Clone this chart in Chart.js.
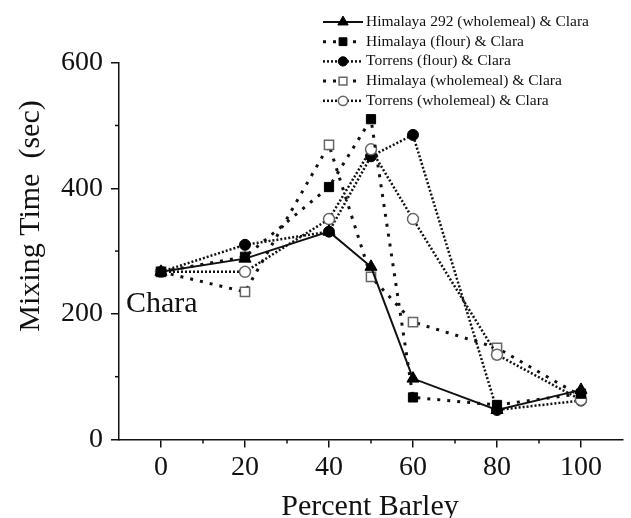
<!DOCTYPE html>
<html>
<head>
<meta charset="utf-8">
<script src="https://cdn.jsdelivr.net/npm/chart.js@4.4.1/dist/chart.umd.min.js"></script>
<style>
html, body { margin: 0; padding: 0; background: #fff; }
#wrap { width: 631px; height: 518px; position: relative; }
</style>
</head>
<body>
<div id="wrap"><canvas id="chart"></canvas></div>
<script>
const percentBarley = [0, 20, 40, 50, 60, 80, 100];
const himalaya292Wholemeal = [267, 288, 331, 275, 97, 47, 79];
const himalayaFlour = [267, 291, 402, 510, 67, 55, 73];
const torrensFlour = [267, 310, 331, 451, 485, 47, 62];
const himalayaWholemeal = [267, 235, 469, 259, 187, 146, 69];
const torrensWholemeal = [267, 267, 351, 462, 351, 135, 63];

const xTicks = [0, 20, 40, 60, 80, 100];
const xMinorTicks = [10, 30, 50, 70, 90];
const yTicks = [0, 200, 400, 600];
const yMinorTicks = [100, 300, 500];

const SERIF = '"Liberation Serif", "Times New Roman", serif';
const INK = '#111';

function points(values) {
    return values.map((y, i) => ({ x: percentBarley[i], y }));
}

// series look: solid / sparse dots / dense dots
function series(label, values, style, marker, filled, order) {
    const dash = style === 'solid' ? [] : style === 'sparse' ? [3, 7] : [2, 2];
    const width = style === 'sparse' ? 3 : style === 'dense' ? 2.5 : 2;
    return {
        label,
        data: points(values),
        borderColor: INK,
        borderWidth: width,
        borderDash: dash,
        pointStyle: marker,
        pointRadius: marker === 'triangle' ? 7 : marker === 'rect' ? 6.5 : 5.5,
        pointBackgroundColor: filled ? '#000' : '#fff',
        pointBorderColor: filled ? '#000' : '#666',
        pointBorderWidth: filled ? 1 : 1.5,
        showLine: true,
        tension: 0,
        order,
    };
}

const extras = {
    id: 'extras',
    afterDraw(chart) {
        const { ctx, chartArea, scales } = chart;
        ctx.save();

        // minor ticks
        ctx.strokeStyle = INK;
        ctx.lineWidth = 1.5;
        xMinorTicks.forEach((v) => {
            const px = scales.x.getPixelForValue(v);
            ctx.beginPath();
            ctx.moveTo(px, chartArea.bottom);
            ctx.lineTo(px, chartArea.bottom + 4);
            ctx.stroke();
        });
        yMinorTicks.forEach((v) => {
            const py = scales.y.getPixelForValue(v);
            ctx.beginPath();
            ctx.moveTo(chartArea.left - 4, py);
            ctx.lineTo(chartArea.left, py);
            ctx.stroke();
        });

        // axis titles and label
        ctx.fillStyle = INK;
        ctx.font = '30px ' + SERIF;
        ctx.textBaseline = 'alphabetic';
        ctx.textAlign = 'center';
        ctx.fillText('Percent Barley', 370, 515);
        ctx.save();
        ctx.translate(39, 216);
        ctx.rotate(-Math.PI / 2);
        ctx.fillText('Mixing Time  (sec)', 0, 0);
        ctx.restore();
        ctx.textAlign = 'left';
        ctx.fillText('Chara', 126, 312);

        // legend
        ctx.font = '15.5px ' + SERIF;
        ctx.textBaseline = 'middle';
        chart.data.datasets.forEach((ds, i) => {
            const y = 22 + i * 19.7;
            ctx.save();
            ctx.strokeStyle = INK;
            ctx.lineWidth = ds.borderWidth;
            ctx.setLineDash(ds.borderDash);
            ctx.beginPath();
            ctx.moveTo(323, y);
            ctx.lineTo(363, y);
            ctx.stroke();
            ctx.restore();
            ctx.save();
            ctx.fillStyle = ds.pointBackgroundColor;
            ctx.strokeStyle = ds.pointBorderColor;
            ctx.lineWidth = ds.pointBorderWidth;
            Chart.helpers.drawPoint(ctx, {
                pointStyle: ds.pointStyle,
                radius: ds.pointRadius * 0.85,
                rotation: 0,
                borderWidth: ds.pointBorderWidth,
            }, 343, y);
            ctx.restore();
            ctx.fillStyle = INK;
            ctx.fillText(ds.label, 366, y);
        });

        ctx.restore();
    },
};

new Chart(document.getElementById('chart'), {
    type: 'scatter',
    data: {
        datasets: [
            series('Himalaya 292 (wholemeal) & Clara', himalaya292Wholemeal, 'solid', 'triangle', true, 2),
            series('Himalaya (flour) & Clara', himalayaFlour, 'sparse', 'rect', true, 1),
            series('Torrens (flour) & Clara', torrensFlour, 'dense', 'circle', true, 4),
            series('Himalaya (wholemeal) & Clara', himalayaWholemeal, 'sparse', 'rect', false, 5),
            series('Torrens (wholemeal) & Clara', torrensWholemeal, 'dense', 'circle', false, 3),
        ],
    },
    options: {
        responsive: true,
        maintainAspectRatio: false,
        animation: false,
        events: [],
        layout: { padding: { top: 62.7, right: 0, bottom: 0, left: 0 } },
        plugins: {
            legend: { display: false },
            tooltip: { enabled: false },
        },
        scales: {
            x: {
                type: 'linear',
                min: -10,
                max: 110,
                afterBuildTicks: (s) => { s.ticks = xTicks.map((v) => ({ value: v })); },
                afterFit: (s) => { s.height = 78.5; },
                grid: { drawOnChartArea: false, color: INK, lineWidth: 1.5, tickLength: 8 },
                border: { color: INK, width: 1.5 },
                ticks: { color: INK, padding: 3, font: { family: SERIF, size: 28 } },
            },
            y: {
                min: 0,
                max: 600,
                afterBuildTicks: (s) => { s.ticks = yTicks.map((v) => ({ value: v })); },
                afterFit: (s) => { s.width = 119; },
                grid: { drawOnChartArea: false, color: INK, lineWidth: 1.5, tickLength: 8 },
                border: { color: INK, width: 1.5 },
                ticks: { color: INK, padding: 8, font: { family: SERIF, size: 28 } },
            },
        },
    },
    plugins: [extras],
});
</script>
</body>
</html>
